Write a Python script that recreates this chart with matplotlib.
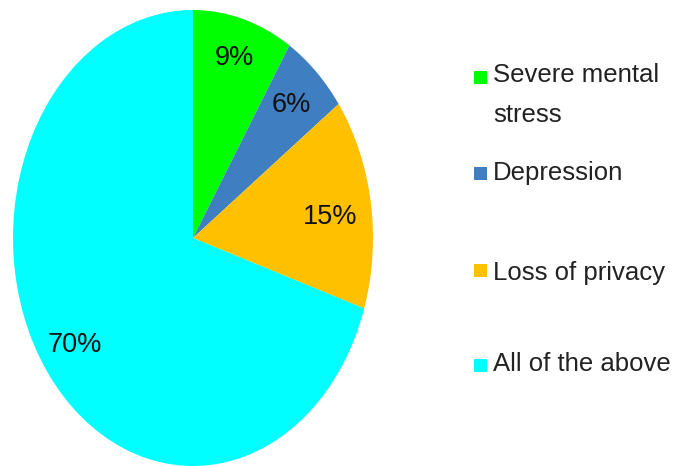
import matplotlib
matplotlib.use("Agg")
import matplotlib.pyplot as plt
from matplotlib.patches import Rectangle

categories = ["Severe mental\nstress", "Depression", "Loss of privacy", "All of the above"]
values = [9, 6, 15, 70]
colors = ["#00FF00", "#3F7FC1", "#FFC000", "#00FFFF"]

W, H = 676, 466
fig = plt.figure(figsize=(W / 100, H / 100), dpi=100)
fam = ["Liberation Sans", "DejaVu Sans"]

# pie axes (elliptical, stretched vertically like reference)
left, right, top, bottom = 13, 373, 10, 466
ax = fig.add_axes([left / W, (H - bottom) / H, (right - left) / W, (bottom - top) / H])
wedges, texts = ax.pie(values, colors=colors, startangle=90, counterclock=False,
                       radius=1.0, wedgeprops=dict(linewidth=0))
ax.set_aspect("auto")
ax.set_xlim(-1, 1)
ax.set_ylim(-1, 1)
ax.axis("off")

# percentage labels (data coords)
label_pos = [(0.23, 0.79), (0.545, 0.585), (0.76, 0.09), (-0.655, -0.47)]
for v, (x, y) in zip(values, label_pos):
    ax.text(x, y, f"{v}%", ha="center", va="center", fontsize=19.5, family=fam,
            color="#111111")

# manual legend
rows_y = [95, 173, 273, 364]
marker_y = [77, 173, 270, 365]
for lab, c, ty, my in zip(categories, colors, rows_y, marker_y):
    s = 13
    fig.patches.append(Rectangle((474 / W, (H - my - s / 2) / H), s / W, s / H,
                                 transform=fig.transFigure, facecolor=c, edgecolor="none"))
    fig.text(493 / W, (H - ty) / H, lab, ha="left", va="center", fontsize=18.5,
             family=fam, color="#222222", linespacing=1.85)

fig.savefig("out.png", dpi=100)
